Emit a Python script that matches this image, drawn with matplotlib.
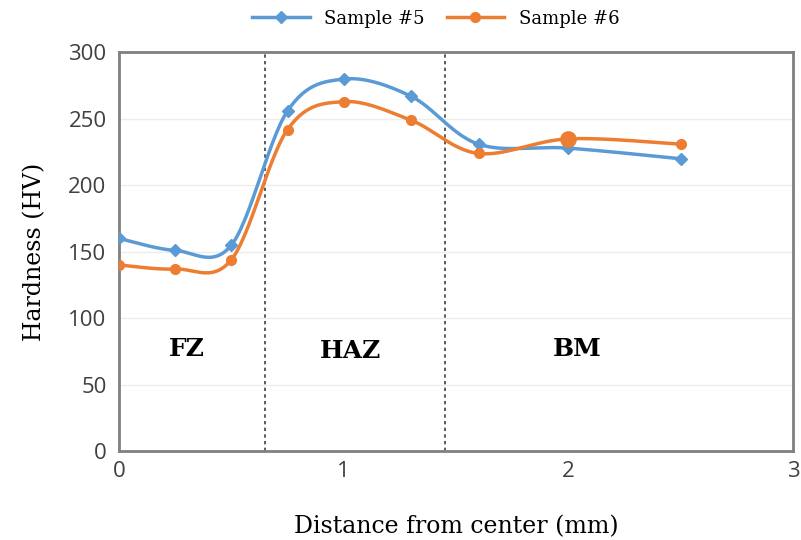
import matplotlib
matplotlib.use("Agg")
import matplotlib.pyplot as plt
import numpy as np

# distance from center (mm) and hardness (HV)
dist = [0, 0.25, 0.5, 0.75, 1.0, 1.3, 1.6, 2.0, 2.5]
sample5 = [160, 151, 155, 256, 280, 267, 231, 228, 220]
sample6 = [140, 137, 144, 242, 263, 249, 224, 235, 231]
zone_bounds = [0.65, 1.45]
zone_labels = ["FZ", "HAZ", "BM"]
zone_pos = [(0.3, 77), (1.03, 75), (2.04, 77)]


def smooth(x, y, n=30):
    # Excel-style smoothed line (Catmull-Rom through the points)
    x = np.asarray(x, float)
    y = np.asarray(y, float)
    px = np.concatenate([[x[0]], x, [x[-1]]])
    py = np.concatenate([[y[0]], y, [y[-1]]])
    xs, ys = [], []
    t = np.linspace(0, 1, n)
    for i in range(1, len(px) - 2):
        p0, p1, p2, p3 = (np.array([px[j], py[j]]) for j in range(i - 1, i + 3))
        c1 = p1 + (p2 - p0) / 6
        c2 = p2 - (p3 - p1) / 6
        b = ((1 - t) ** 3)[:, None] * p1 + (3 * (1 - t) ** 2 * t)[:, None] * c1 \
            + (3 * (1 - t) * t ** 2)[:, None] * c2 + (t ** 3)[:, None] * p2
        xs.extend(b[:, 0])
        ys.extend(b[:, 1])
    return xs, ys


blue = "#5B9BD5"
orange = "#ED7D31"

fig = plt.figure(figsize=(8.01, 5.4), dpi=100)
ax = fig.add_axes([0.1486, 0.1648, 0.8415, 0.738])

for data, col, mk, ms, lab in [(sample5, blue, "D", 6, "Sample #5"),
                               (sample6, orange, "o", 7, "Sample #6")]:
    sx, sy = smooth(dist, data)
    ax.plot(sx, sy, color=col, lw=2.5, zorder=3)
    ax.plot(dist, data, linestyle="none", marker=mk, ms=ms, color=col, zorder=4)
    ax.plot([], [], color=col, lw=2.5, marker=mk, ms=ms, label=lab)

# the bigger dot at 2 mm for sample #6
ax.plot(dist[7], sample6[7], marker="o", ms=11, color=orange, zorder=4)

for xb in zone_bounds:
    ax.axvline(xb, color="#404040", lw=1.2, ls=(0, (2, 2)), zorder=2)

for lab, (x, y) in zip(zone_labels, zone_pos):
    ax.text(x, y, lab, ha="center", va="center", fontsize=18, fontweight="bold",
            family="DejaVu Serif")

ax.set_xlim(0, 3)
ax.set_ylim(0, 300)
ax.set_xticks([0, 1, 2, 3])
ax.set_yticks(range(0, 301, 50))
ax.grid(axis="y", color="#EDEDED", lw=1)
ax.set_axisbelow(True)
ax.tick_params(length=0, labelsize=16, labelcolor="#404040")
ax.tick_params(axis="x", pad=7)
ax.tick_params(axis="y", pad=9)
for lbl in ax.get_xticklabels() + ax.get_yticklabels():
    lbl.set_family("Open Sans")
for s in ax.spines.values():
    s.set_color("#808080")
    s.set_linewidth(2)

ax.set_xlabel("Distance from center (mm)", fontsize=17, family="DejaVu Serif", labelpad=24)
ax.set_ylabel("Hardness (HV)", fontsize=17, family="DejaVu Serif", labelpad=16)

ax.legend(loc="lower center", bbox_to_anchor=(0.47, 1.035), ncol=2, frameon=False,
          prop={"family": "DejaVu Serif", "size": 13}, handlelength=3.2,
          columnspacing=1.2, borderaxespad=0.2)

fig.savefig("out.png", dpi=100)
